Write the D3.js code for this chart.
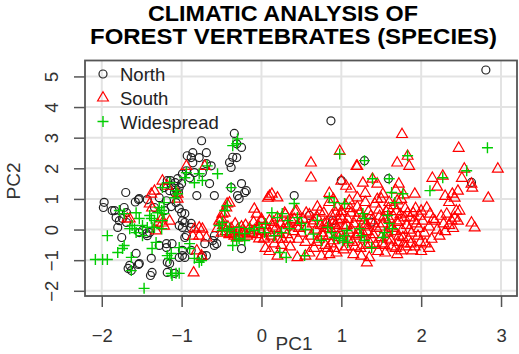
<!DOCTYPE html>
<html><head><meta charset="utf-8">
<script src="https://cdn.jsdelivr.net/npm/d3@7"></script>
<style>body{margin:0;background:#fff}text{font-family:"Liberation Sans",Arial,sans-serif}</style>
</head><body><svg id="c" width="519" height="354"></svg>
<script>
const titleLines = ["CLIMATIC ANALYSIS OF", "FOREST VERTEBRATES (SPECIES)"];
const xLabel = "PC1", yLabel = "PC2";
const seriesNames = ["North", "South", "Widespread"];
const xTicks = [-2, -1, 0, 1, 2, 3];
const yTicks = [-2, -1, 0, 1, 2, 3, 4, 5];

const north = [
[-1.97,0.89],[-1.98,0.72],[-1.70,1.21],[-1.84,0.62],[-1.72,0.72],[-1.69,0.55],[-1.74,0.36],[-1.78,0.29],[-1.69,0.23],[-1.75,-0.26],
[-1.54,0.98],[-1.49,-0.03],[-1.43,-0.20],[-1.53,-0.10],[-1.57,-0.78],[-1.54,-1.14],[-1.67,-1.27],[-1.43,0.98],[-1.34,0.72],[-1.38,-0.94],
[-1.37,-1.40],[-1.39,-1.50],[-1.28,-0.52],[-1.19,-0.59],[-1.18,-1.07],[-1.18,-1.40],[-1.09,-1.43],[-1.13,1.43],[-1.08,1.53],[-1.03,1.37],
[-1.15,1.27],[-1.09,1.21],[-1.05,1.66],[-1.18,1.60],[-1.00,1.50],[-1.22,1.37],[-1.07,0.88],[-1.03,0.68],[-1.00,0.55],[-0.96,0.23],
[-1.03,0.13],[-0.99,-0.85],[-0.93,2.41],[-0.86,2.51],[-0.75,2.90],[-0.69,2.51],[-0.63,2.08],[-0.59,1.11],[-0.65,1.50],[-0.74,1.86],
[-0.86,2.18],[-0.81,1.11],[-0.88,0.20],[-0.74,-0.85],[-0.59,-0.52],[-0.88,-0.68],[-0.34,3.14],[-0.25,2.68],[-0.36,2.36],[-0.38,2.03],
[-0.40,2.19],[-0.88,2.35],[-0.78,2.35],[-0.69,2.15],[-0.99,1.82],[-0.94,1.92],[-0.90,1.69],[-0.84,1.86],[-0.21,1.21],[-0.28,1.01],
[-0.30,1.11],[-0.25,1.50],[-0.96,0.52],[-0.99,0.29],[-0.88,0.07],[-0.94,-0.20],[-0.96,-0.91],[-0.59,-0.20],[-0.69,-0.85],[-0.25,-0.62],
[0.87,3.55],[2.81,5.21],[0.41,1.11],[1.00,1.60],[1.29,2.25],[1.59,1.66],[2.63,1.54],[1.37,0.24],[-0.31,2.35],[-0.19,1.27],
[-1.28,1.04],[-1.19,0.94],[-1.53,1.01],[-1.87,0.62],[-1.82,0.39],[-1.80,0.07],[-1.44,-0.13],[-1.40,-0.10],[-1.19,-0.46],[-1.12,-0.46],
[-0.99,0.07],[-0.96,-0.26],[-1.03,-0.91],[-0.99,-0.68],[-0.75,-0.91],[-0.71,-0.46],[-0.56,-0.46],[-0.61,-0.36],[-1.53,-1.11],[-1.65,-1.17],
[-1.63,-1.34],[-1.15,-1.11],[-1.14,1.60],[-1.08,1.34],[-1.04,1.21],[0.89,0.29],[0.60,0.46],[-1.58,0.90],[-1.21,0.62],[-1.13,0.75],
[-0.38,1.37],[-0.31,2.80]
];

const south = [
[-1.24,1.60],[-1.34,1.27],[-1.37,0.72],[-1.18,1.43],[-0.94,2.08],[-0.71,2.08],[-1.65,0.36],[-1.05,1.01],[-1.24,0.23],[-1.15,0.29],
[-0.84,0.03],[-0.74,0.03],[-0.78,-0.20],[-0.86,-0.20],[-0.69,-0.26],[-0.81,-0.68],[-0.75,-0.85],[-0.85,-1.40],[-0.50,0.36],[-0.46,0.55],
[-0.43,0.85],[-0.38,-0.10],[-0.31,-0.26],[-0.78,0.07],[-0.53,0.29],[-0.49,0.52],[-0.44,0.72],[-0.40,0.88],
[-0.09,0.68],[-0.06,0.52],[0.00,0.29],[0.08,1.04],[-0.40,-0.13],[-0.34,-0.20],[-0.28,-0.20],[-0.21,-0.13],[-0.15,-0.10],[-0.09,-0.03],[-0.03,-0.29],[0.04,-0.26],
[-1.40,0.85],[-1.38,1.17],[-1.05,1.17],[-1.68,0.36],[-1.30,0.20],[-1.22,0.13],[-1.32,-0.03],[-1.25,0.36],
[-0.55,0.05],[-0.50,-0.10],[-0.48,0.15],[-0.45,-0.05],[-0.42,0.10],[-0.40,-0.15],[-0.38,0.05],[-0.35,-0.10],[-0.33,0.20],[-0.30,0.00],[-0.28,-0.25],[-0.25,0.10],
[-0.22,-0.05],[-0.20,0.15],[-0.18,-0.20],[-0.15,0.05],[-0.12,-0.10],[-0.10,0.25],[-0.08,0.00],[-0.05,-0.15],[-0.03,0.10],[0.00,-0.05],[0.00,0.35],
[0.03,-0.30],[0.05,0.15],[0.08,0.00],[0.10,0.30],[0.12,-0.20],[0.14,0.10],[0.16,-0.45],[0.18,0.05],[0.20,0.40],[0.22,-0.10],[0.24,0.20],[0.26,-0.30],[0.28,0.00],[0.30,0.50],[0.32,-0.15],[0.34,0.15],[0.36,-0.55],[0.38,0.30],[0.40,-0.05],[0.42,0.60],[0.44,0.10],[0.46,-0.30],[0.48,0.25],[0.50,-0.10],
[0.10,-0.70],[0.20,-0.85],[0.30,-0.80],[0.45,-0.90],[0.55,-0.85],[0.05,-0.60],
[0.10,1.10],[0.20,1.05],[0.13,1.17],[0.62,2.19],[0.62,1.70],[0.29,0.55],[0.44,0.62],[0.56,0.55],
[0.06,-0.10],[0.15,0.25],[0.25,-0.50],[0.35,-0.30],[0.41,0.35],[0.47,0.05],[0.21,-0.30],[0.31,0.20],
[0.52,0.35],[0.55,-0.40],[0.57,0.10],[0.60,0.50],[0.62,-0.20],[0.64,0.20],[0.66,-0.60],[0.68,0.00],[0.70,0.40],[0.72,-0.30],[0.74,0.15],[0.76,-0.10],[0.78,0.55],[0.80,-0.50],[0.82,0.25],[0.84,-0.20],[0.86,0.05],[0.88,0.45],[0.90,-0.35],[0.92,0.15],[0.94,-0.75],[0.96,0.30],[0.98,-0.10],[1.00,0.60],
[0.60,-0.75],[0.75,-0.85],[0.85,-0.80],[0.70,0.75],[0.85,0.90],[0.90,1.00],[0.95,0.75],
[0.98,2.57],[1.00,1.60],[1.06,1.43],[1.12,1.34],[1.19,2.08],[0.85,1.20],
[1.02,-0.30],[1.04,0.10],[1.06,-0.55],[1.08,0.35],[1.10,-0.10],[1.12,0.55],[1.14,-0.40],[1.16,0.20],[1.18,-0.20],[1.20,0.75],[1.22,0.00],[1.24,-0.60],[1.26,0.40],[1.28,-0.30],[1.30,0.15],[1.32,-0.05],[1.34,0.60],[1.36,-0.45],[1.38,0.30],[1.40,-0.15],[1.42,0.85],[1.44,0.05],[1.46,-0.70],[1.48,0.45],[1.50,-0.25],
[1.05,0.80],[1.15,-0.80],[1.25,-0.85],[1.32,-1.07],[1.35,-0.90],[1.10,0.95],[1.30,0.90],[1.45,1.00],[1.20,1.05],
[1.20,2.08],[1.27,1.53],[1.39,1.66],[1.45,1.50],[1.52,1.17],[1.50,1.01],[1.30,1.20],
[1.52,0.20],[1.54,-0.50],[1.56,0.60],[1.58,-0.10],[1.60,0.35],[1.62,-0.35],[1.64,0.05],[1.66,0.80],[1.68,-0.60],[1.70,0.25],[1.72,-0.20],[1.74,0.50],[1.76,0.00],[1.78,-0.45],[1.80,0.70],[1.82,0.15],[1.84,-0.30],[1.86,0.40],[1.88,-0.10],[1.90,0.55],[1.92,-0.55],[1.94,0.20],[1.96,-0.20],[1.98,0.45],
[1.55,-0.75],[1.70,-0.80],[1.75,-0.68],[1.89,-0.68],[1.60,0.90],[1.75,1.00],
[1.76,3.12],[1.83,2.41],[1.70,2.19],[1.85,2.08],[1.72,1.50],[1.92,1.17],[1.68,1.30],[1.70,0.95],[1.78,1.15],
[0.81,0.05],[0.87,-0.45],[0.93,0.55],[0.97,-0.25],[1.01,0.35],[1.03,-0.65],[1.07,0.15],[1.09,-0.35],[1.11,0.70],[1.13,0.00],[1.17,-0.55],[1.19,0.40],[1.21,-0.15],[1.23,0.55],[1.27,-0.10],[1.29,0.30],[1.31,-0.50],[1.33,0.10],[1.37,0.45],[1.39,-0.30],[1.41,0.20],[1.43,-0.50],[1.47,0.65],[1.49,0.10],[1.51,-0.45],[1.53,0.40],[1.57,-0.30],[1.59,0.70],[1.61,0.10],[1.63,-0.55],[1.65,0.45],[1.67,-0.05],[1.69,0.60],[1.71,-0.40],[1.73,0.30],[1.77,-0.25],[1.79,0.40],[1.81,-0.55],[1.83,0.55],[1.85,0.00],[1.87,-0.45],[1.91,0.30],[1.93,0.70],[1.97,0.05],[1.99,-0.40],
[0.65,0.30],[0.69,-0.40],[0.73,0.60],[0.77,-0.20],[0.79,0.20],[0.83,-0.60],[0.89,0.20],[0.91,-0.60],[0.95,0.05],[0.99,0.45],
[2.00,0.62],[2.02,0.29],[2.04,-0.10],[2.07,0.72],[2.10,0.10],[2.11,0.52],[2.13,-0.30],[2.15,0.35],[2.17,0.29],[2.20,0.00],[2.23,-0.20],[2.25,0.45],[2.28,0.20],[2.30,-0.05],[2.32,0.52],[2.35,0.15],[2.38,0.30],[2.40,0.05],[2.42,0.39],[2.44,0.62],[2.46,0.29],[2.48,0.62],[2.05,-0.45],[2.10,-0.60],[2.00,-0.70],
[2.14,1.69],[2.27,1.76],[2.39,1.17],[2.42,1.04],[2.46,1.27],[2.47,2.67],[2.51,1.69],[2.54,1.99],[2.63,1.50],[2.64,1.37],[2.96,1.99],[2.84,1.04],[2.63,0.23],[2.67,0.07],[2.20,1.40],[2.35,0.90],[2.30,1.10]
];

const widespread = [
[-2.08,-0.98],[-1.99,-0.98],[-1.93,-0.98],[-1.93,-0.20],[-1.80,-0.75],[-1.74,-0.62],[-1.72,-0.52],[-1.63,-0.91],[-1.63,-1.34],[-1.78,0.62],
[-1.72,0.52],[-1.47,-1.92],[-1.57,0.55],[-1.53,0.36],[-1.62,0.13],[-1.65,0.03],[-1.49,0.13],[-1.57,-0.10],[-1.49,-0.20],[-1.40,0.46],
[-1.34,0.29],[-1.30,0.55],[-1.28,0.72],[-1.22,0.52],[-1.24,0.29],[-1.37,0.07],[-1.43,0.07],[-1.25,0.03],[-1.32,-0.42],[-1.37,-0.62],
[-1.13,-0.78],[-1.15,-0.94],[-1.13,-1.43],[-1.12,-1.50],[-1.07,-1.43],[-1.03,-0.59],[-0.90,-0.62],[-0.84,-0.94],[-1.09,1.04],[-1.07,1.27],
[-1.15,1.53],[-1.24,1.37],[-1.05,1.17],[-0.96,1.69],[-0.94,1.86],[-0.84,1.53],[-0.78,1.82],[-0.68,2.08],[-0.55,1.82],[-0.74,1.60],
[-0.38,1.37],[-0.36,2.74],[-0.30,2.96],[-0.46,0.62],[-0.43,0.78],[-0.49,0.23],[-0.43,-0.03],[-0.31,-0.36],[-0.36,-0.52],[-0.78,-1.07],
[-1.59,0.03],[-1.38,0.36],[-1.34,0.07],[-1.25,0.62],[-1.18,-0.85],[-0.90,-0.46],[-0.75,-1.01],[-1.03,-1.43],[-1.22,0.88],
[-0.53,0.13],[-0.49,-0.03],[-0.40,0.03],[-0.34,-0.10],[-0.28,0.07],[-0.21,-0.13],[-0.15,0.03],[-0.09,-0.03],[-0.03,0.07],[0.04,-0.10],
[-0.28,-0.29],[-0.21,-0.36],[0.41,0.85],[0.85,1.04],[0.91,0.88],[0.13,0.55],[0.20,0.39],[0.26,0.52],[0.33,0.29],[0.45,0.39],
[0.50,0.20],[0.35,0.03],[0.25,-0.10],[0.16,-0.20],[0.23,-0.75],[0.31,-0.91],[0.54,-0.85],[0.83,0.07],[0.88,-0.10],[0.91,-0.26],
[0.98,-0.29],[1.04,-0.20],[1.08,-0.42],[0.75,-0.36],[1.29,2.25],[1.83,2.41],[1.39,1.66],[1.60,1.66],[1.63,1.21],[1.77,1.17],
[1.67,0.88],[2.11,1.27],[1.27,0.52],[1.29,0.36],[1.58,0.46],[1.60,0.20],[1.64,0.03],[1.54,-0.10],[1.23,0.03],[1.25,-0.20],
[1.29,-0.36],[1.38,-0.59],[1.52,-0.26],[2.83,2.67],[2.57,1.92],[2.27,1.69],[0.98,2.47],[1.04,0.85],[1.02,-0.36],[1.07,-0.03],
[0.05,0.20],[0.55,0.00],[0.65,-0.15],[0.70,0.30],[-0.31,2.80]
];

const W = 519, H = 354;
const plot = {left: 85, right: 517, top: 60.5, bottom: 296};
const svg = d3.select("#c");
const x = d3.scaleLinear().domain([-2.21, 3.2]).range([plot.left, plot.right]);
const y = d3.scaleLinear().domain([-2.17, 5.52]).range([plot.bottom, plot.top]);

// grid
const grid = svg.append("g").attr("stroke", "#e3e3e3").attr("stroke-width", 2);
grid.selectAll("line.v").data(xTicks).join("line").attr("class","v")
  .attr("x1", d => x(d)).attr("x2", d => x(d)).attr("y1", plot.top).attr("y2", plot.bottom);
grid.selectAll("line.h").data(yTicks).join("line").attr("class","h")
  .attr("y1", d => y(d)).attr("y2", d => y(d)).attr("x1", plot.left).attr("x2", plot.right);

// axes
const fs = 18.5;
const xAxis = svg.append("g").attr("transform", `translate(0,${plot.bottom})`)
  .call(d3.axisBottom(x).tickValues(xTicks).tickFormat(d3.format("d")).tickSize(11).tickPadding(22));
const yAxis = svg.append("g").attr("transform", `translate(${plot.left},0)`)
  .call(d3.axisLeft(y).tickValues(yTicks).tickFormat(d3.format("d")).tickSize(11));
[xAxis, yAxis].forEach(a => {
  a.select(".domain").remove();
  a.selectAll(".tick line").attr("stroke", "#555").attr("stroke-width", 1.5);
  a.selectAll(".tick text").attr("fill", "#333").style("font-size", fs + "px")
    .style("font-family", '"Liberation Sans",Arial,sans-serif');
});
yAxis.selectAll(".tick text").attr("x", null).attr("dy", null).attr("y", null)
  .attr("text-anchor", "middle").attr("transform", "translate(-27.5,0) rotate(-90)");

// frame
svg.append("rect").attr("x", plot.left).attr("y", plot.top)
  .attr("width", plot.right - plot.left).attr("height", plot.bottom - plot.top)
  .attr("fill", "none").attr("stroke", "#555").attr("stroke-width", 1.8);

// points
const triPath = "M0,-5.8L5.4,3.5L-5.4,3.5Z";
const plusPath = "M-5.5,0H5.5M0,-5.5V5.5";
const pts = svg.append("g");
pts.selectAll("circle.n").data(north).join("circle").attr("class","n")
  .attr("cx", d => x(d[0])).attr("cy", d => y(d[1])).attr("r", 4)
  .attr("fill", "none").attr("stroke", "#222").attr("stroke-width", 1.2);
pts.selectAll("path.s").data(south).join("path").attr("class","s")
  .attr("d", triPath).attr("transform", d => `translate(${x(d[0])},${y(d[1])})`)
  .attr("fill", "none").attr("stroke", "#ff0000").attr("stroke-width", 1.2);
pts.selectAll("path.w").data(widespread).join("path").attr("class","w")
  .attr("d", plusPath).attr("transform", d => `translate(${x(d[0])},${y(d[1])})`)
  .attr("fill", "none").attr("stroke", "#00cd00").attr("stroke-width", 1.4);

// legend
const leg = svg.append("g");
const legY = [74, 97.5, 121.5];
leg.append("circle").attr("cx", 103).attr("cy", legY[0]).attr("r", 4)
  .attr("fill","none").attr("stroke","#222").attr("stroke-width",1.2);
leg.append("path").attr("d", triPath).attr("transform", `translate(103,${legY[1]})`)
  .attr("fill","none").attr("stroke","#ff0000").attr("stroke-width",1.2);
leg.append("path").attr("d", plusPath).attr("transform", `translate(103,${legY[2]})`)
  .attr("fill","none").attr("stroke","#00cd00").attr("stroke-width",1.4);
leg.selectAll("text").data(seriesNames).join("text")
  .attr("x", 120).attr("y", (d, i) => legY[i] + 7)
  .attr("fill", "#222").style("font-size", fs + "px").text(d => d);

// titles
const t = svg.append("g").attr("fill", "#000").style("font-weight", "bold").style("font-size", "21.5px");
t.append("text").attr("x", 148).attr("y", 20.5).attr("textLength", 270).attr("lengthAdjust", "spacingAndGlyphs").text(titleLines[0]);
t.append("text").attr("x", 90).attr("y", 44).attr("textLength", 407).attr("lengthAdjust", "spacingAndGlyphs").text(titleLines[1]);

svg.append("text").attr("x", 294).attr("y", 350).attr("text-anchor", "middle")
  .attr("fill", "#333").style("font-size", "19px").text(xLabel);
svg.append("text").attr("transform", "translate(20,181) rotate(-90)").attr("text-anchor", "middle")
  .attr("fill", "#333").style("font-size", "19px").text(yLabel);
</script></body></html>
